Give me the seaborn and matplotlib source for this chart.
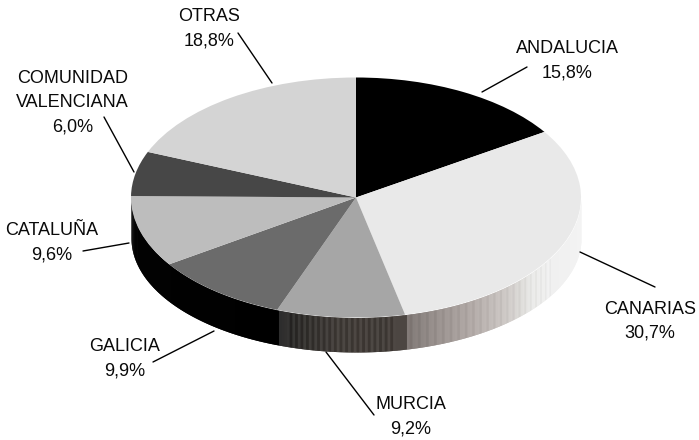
import numpy as np
import matplotlib
matplotlib.use("Agg")
import matplotlib.pyplot as plt
import seaborn as sns

categories = ["ANDALUCIA", "CANARIAS", "MURCIA", "GALICIA", "CATALUÑA", "COMUNIDAD\nVALENCIANA", "OTRAS"]
values = [15.8, 30.7, 9.2, 9.9, 9.6, 6.0, 18.8]
value_labels = ["15,8%", "30,7%", "9,2%", "9,9%", "9,6%", "6,0%", "18,8%"]
top_colors = ["#000000", "#e9e9e9", "#a6a6a6", "#6b6b6b", "#bdbdbd", "#474747", "#d4d4d4"]

W, H = 699, 440
CX, CY, RX, RY = 356, 197.5, 225, 120
BOTTOM_CY, BOTTOM_RY = 238, 114

# label layout in pixels: text centre x, first-line centre y; leader ends
label_pos = [(567, 47), (650, 307.5), (411, 403), (124.5, 345), (51.5, 229), (72.5, 77), (209.5, 15)]
leaders = [((482, 92), (527, 67)), ((580, 252), (655, 287)), ((326, 352), (374, 415)),
           ((214, 331), (153, 362)), ((129, 243), (83, 251)), ((134, 172), (104, 117)),
           ((272, 83), (238, 33))]

# side-wall shade stops: clock angle in degrees -> gray colour
shade_angles = [90, 120, 129, 137, 149, 160, 167.3, 167.4, 185, 195, 200.4, 200.5, 270]
shade_rgb = [(244, 244, 244), (240, 240, 240), (232, 232, 230), (208, 204, 201), (178, 170, 167),
             (150, 142, 139), (125, 118, 115), (76, 70, 66), (74, 69, 65), (56, 54, 52),
             (44, 44, 44), (0, 0, 0), (3, 3, 3)]

sns.set_theme(style="white")
plt.rcParams["font.family"] = ["Liberation Sans", "DejaVu Sans"]

fig = plt.figure(figsize=(W / 100, H / 100), dpi=100)
ax = fig.add_axes([0, 0, 1, 1])


def px(x, y):
    return (x - CX) / RX, (CY - y) / RY


ax.pie(values, colors=top_colors, startangle=90, counterclock=False, radius=1,
       wedgeprops=dict(linewidth=0), frame=False, normalize=True)
for w in ax.patches:
    w.set_zorder(3)
ax.set_aspect("auto")
ax.set_xlim(px(0, 0)[0], px(W, 0)[0])
ax.set_ylim(px(0, H)[1], px(0, 0)[1])
ax.axis("off")

# side wall, drawn as narrow overlapping strips shaded by clock angle
step = 0.72
edges = np.arange(90, 270 + step, step)
for i, a0 in enumerate(edges[:-1]):
    a1 = min(a0 + 2 * step, 270)
    t = np.radians(np.linspace(a0, a1, 5))
    x = np.sin(t)
    y_top = np.cos(t)
    y_bot = (CY - BOTTOM_CY + BOTTOM_RY * np.cos(t)) / RY
    mid = a0 + step / 2
    rgb = [np.interp(mid, shade_angles, [c[k] for c in shade_rgb]) for k in range(3)]
    band = 0
    if 170 < mid < 198:
        band = -16 if i % 2 == 0 else 2
    elif 120 < mid < 167.3:
        band = -6 if i % 3 == 0 else 3
    col = [min(255, max(0, v + band)) / 255 for v in rgb]
    ax.fill_between(x, y_top, y_bot, color=col, linewidth=0, zorder=2 + i * 1e-4)

# text is placed by baseline so that every line sits the same way
BASE = 6.4
for name, pct, (tx, ty) in zip(categories, value_labels, label_pos):
    lines = name.split("\n") + [pct]
    for j, line in enumerate(lines):
        ax.text(*px(tx, ty + j * 24 + BASE), line, ha="center", va="baseline", fontsize=12.95,
                color="#0a0a0a", zorder=5)

for p0, p1 in leaders:
    a, b = px(*p0), px(*p1)
    ax.plot([a[0], b[0]], [a[1], b[1]], color="black", lw=1.0, zorder=4)

fig.savefig("out.png", dpi=100)
